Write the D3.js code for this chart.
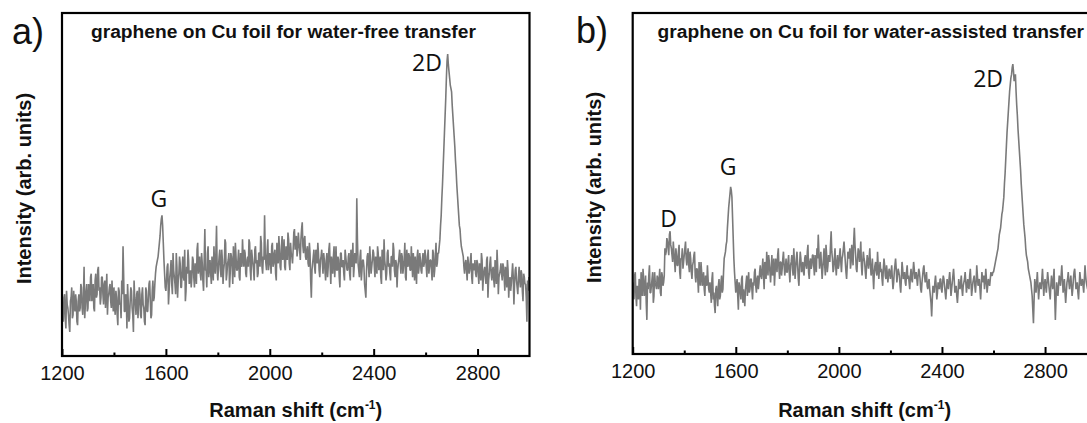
<!DOCTYPE html>
<html>
<head>
<meta charset="utf-8">
<script src="https://cdn.jsdelivr.net/npm/d3@7"></script>
<style>
  html, body { margin: 0; padding: 0; background: #fff; overflow: hidden; }
  svg { display: block; }
</style>
</head>
<body>
<svg id="chart" width="1087" height="423"></svg>
<script>
// ---- data ----
// Digitised spectra: samples every 5 cm^-1 from 1200, plus the in-between
// samples (1202.5, 1207.5, ...).
const shiftStart = 1200;   // cm^-1
const shiftStep = 5;       // cm^-1

const intensityWaterFree = [
  16,10,18,8,15,12,7,17,11,19,13,16,9,18,14,20,12,26,15,21,
  14,19,23,16,21,13,24,18,26,20,17,23,15,22,19,12,18,21,14,17,
  20,12,17,9,19,15,22,32,13,18,8,16,11,20,14,7,17,12,19,15,
  18,11,20,14,9,19,13,21,16,12,22,17,24,27,29,33,38,41,33,24,
  19,26,15,23,28,18,25,21,30,17,24,27,20,29,22,16,26,31,21,25,
  23,28,20,26,31,24,29,22,27,19,37,25,30,23,28,21,26,32,24,38,
  22,29,25,31,21,27,33,24,28,20,30,26,32,23,29,25,31,22,27,34,
  26,30,23,29,34,25,31,27,22,32,28,24,30,35,26,29,41,27,31,25,
  30,24,33,27,31,22,29,35,26,32,28,34,25,30,36,27,33,29,31,37,
  33,29,36,31,34,39,30,35,28,32,26,30,17,27,31,24,29,33,25,28,
  31,24,28,22,30,26,33,21,27,29,23,32,25,28,20,30,26,24,31,27,
  25,30,22,28,33,26,29,46,27,23,31,25,28,21,17,29,26,32,24,28,
  30,23,27,32,25,29,21,28,34,26,24,31,27,22,29,33,25,28,20,27,
  31,24,29,26,33,22,28,30,25,32,23,27,29,21,31,26,28,24,30,27,
  29,23,31,26,28,22,30,25,33,27,30,34,41,50,60,70,81,88,83,79,
  77,70,64,57,50,44,38,34,31,29,24,28,22,27,25,30,21,26,28,23,
  27,21,26,30,19,25,23,28,17,24,29,22,26,20,25,31,18,24,27,22,
  26,19,24,28,17,23,21,27,15,25,22,18,26,20,24,16,23,21,10,19,20
];
const intensityWaterFreeMid = [
  13,17,11,19,14,9,16,20,12,15,18,10,16,13,21,14,17,11,19,13,
  21,16,24,18,14,22,17,25,19,15,23,18,21,14,24,17,20,16,22,13,
  14,19,12,20,15,11,18,23,13,17,21,10,16,19,12,22,15,18,11,20,
  12,18,15,10,20,13,17,22,11,19,16,21,26,28,31,35,40,38,28,20,
  22,27,19,25,21,30,23,18,26,22,29,20,25,23,31,19,24,28,22,20,
  29,23,27,21,33,26,24,30,22,28,25,20,32,26,24,29,22,27,30,25,
  26,31,23,28,25,34,22,27,30,24,29,21,27,33,25,28,23,30,26,29,
  31,24,28,26,33,22,29,25,31,27,23,30,26,33,24,28,30,25,34,27,
  28,32,26,30,24,33,27,31,25,35,29,26,32,28,34,25,30,27,36,31,
  35,31,33,28,37,32,34,29,31,27,33,22,25,29,26,31,27,30,23,29,
  27,30,25,28,23,31,26,29,24,32,27,25,29,23,30,26,28,22,29,25,
  29,24,31,26,23,30,27,34,25,29,22,28,26,19,25,30,23,28,26,31,
  26,29,24,30,27,23,31,25,28,22,30,26,24,29,26,31,23,27,25,29,
  27,30,24,28,23,31,26,29,25,27,30,22,26,29,24,30,25,28,26,31,
  26,29,24,28,25,31,23,29,26,30,32,38,46,55,65,75,86,85,81,78,
  73,67,61,54,47,41,37,32,30,26,27,25,29,24,28,23,27,25,24,28,
  24,27,22,28,23,26,21,29,22,27,24,25,22,28,21,26,23,25,24,27,
  23,26,20,25,22,19,24,23,21,26,20,23,22,25,19,24,21,17,22,23
];

const intensityWaterAssisted = [
  21,16,24,14,19,22,13,20,25,17,23,10,19,26,18,22,15,24,20,23,
  19,25,17,23,21,31,30,33,29,36,31,27,30,24,29,26,32,22,28,25,
  29,33,26,31,24,28,22,27,30,21,25,18,23,27,20,24,17,22,26,19,
  21,15,24,18,12,20,14,22,17,23,19,28,30,33,40,45,49,46,34,24,
  18,22,13,20,16,23,19,14,21,17,24,19,22,16,20,25,18,23,21,26,
  22,28,19,26,30,23,27,21,29,25,20,28,24,31,22,27,25,30,23,28,
  24,29,21,27,25,31,22,28,26,20,30,24,27,23,29,25,32,22,28,26,
  29,23,27,31,35,25,30,22,28,26,32,24,29,27,36,28,25,31,23,29,
  26,31,24,29,33,27,22,30,28,25,32,26,37,29,24,31,27,33,23,30,
  27,22,29,25,31,23,28,19,26,24,30,22,27,25,20,28,23,26,21,25,
  22,26,19,24,28,21,25,23,18,27,22,24,20,26,23,19,25,21,27,22,
  24,20,25,22,18,23,26,21,24,19,22,17,11,20,18,23,16,21,19,22,
  18,23,20,16,22,19,24,17,21,25,18,20,15,22,19,23,17,21,24,18,
  22,19,25,17,21,23,18,26,20,22,16,24,21,19,25,18,22,20,24,23,
  24,26,28,30,33,36,39,42,46,53,61,68,74,79,82,85,80,82,73,66,
  60,54,47,41,36,31,28,25,23,21,17,9,22,18,24,16,21,19,25,17,
  22,18,24,20,16,23,19,25,10,21,17,23,20,26,18,22,15,21,24,19,
  23,17,22,25,19,21,16,24,20,22,18,26,21,19,23,17,22,20,24,18,21
];
const intensityWaterAssistedMid = [
  18,23,17,20,16,21,24,17,22,19,15,21,23,18,20,24,17,21,19,22,
  22,18,24,20,23,29,34,31,35,32,29,33,27,31,26,30,24,28,31,27,
  31,28,29,26,30,24,26,29,23,25,22,27,20,24,22,19,23,20,22,18,
  18,22,16,14,19,17,20,16,21,18,24,29,32,37,43,47,48,40,28,21,
  20,17,21,18,22,15,17,19,23,20,18,22,19,21,24,20,22,19,24,23,
  25,23,27,22,26,29,24,25,23,28,24,26,29,25,27,23,28,26,25,24,
  27,24,26,29,23,27,25,30,22,26,28,25,24,28,26,30,24,27,25,29,
  26,29,24,28,30,27,26,25,31,23,29,26,28,32,30,24,28,26,27,25,
  29,27,28,31,30,24,26,29,31,27,29,33,32,25,28,30,29,26,27,28,
  24,26,27,28,26,25,23,24,27,23,26,25,24,22,25,26,22,24,23,24,
  24,22,21,26,25,23,24,20,22,25,23,21,24,22,21,23,22,24,25,23,
  22,23,24,19,21,25,23,22,20,21,19,15,16,19,21,20,18,20,22,19,
  21,22,18,19,20,22,21,19,23,22,19,17,18,20,21,19,20,22,21,20,
  20,23,21,19,22,20,21,23,21,19,20,22,23,21,22,20,21,22,23,24,
  25,27,29,31,35,37,41,44,50,57,65,71,77,81,84,83,81,77,70,63,
  57,50,44,38,34,29,27,24,22,19,13,16,20,21,20,19,20,22,21,20,
  20,21,22,18,20,21,22,17,16,19,20,22,23,22,20,18,18,22,21,21,
  20,19,24,22,20,18,20,22,21,20,22,23,20,21,20,19,21,22,21,19
];

const xDomain = [1200, 3000];
const majorTicks = [1200, 1600, 2000, 2400, 2800];
const minorTicks = [1400, 1800, 2200, 2600];
const yDomain = [0, 100];

const panelLetters = ["a)", "b)"];
const panelTitles = [
  "graphene on Cu foil for water-free transfer",
  "graphene on Cu foil for water-assisted transfer"
];
const peakLabelsWaterFree = [
  { text: "G", shift: 1573, level: 43.4 },
  { text: "2D", shift: 2605, level: 83 }
];
const peakLabelsWaterAssisted = [
  { text: "D", shift: 1339, level: 37.2 },
  { text: "G", shift: 1570, level: 52.5 },
  { text: "2D", shift: 2579, level: 78.3 }
];
const yTitle = "Intensity (arb. units)";
const xTitle = "Raman shift (cm";
const xTitleSup = "-1";

// interleave main samples and in-between samples into one trace
function buildTrace(main, mid) {
  const pts = [];
  main.forEach((v, k) => {
    pts.push({ shift: shiftStart + k * shiftStep, value: v });
    if (k < mid.length) pts.push({ shift: shiftStart + k * shiftStep + shiftStep / 2, value: mid[k] });
  });
  return pts;
}

// ---- layout ----
const panels = [
  { left: 62, right: 529.5, top: 13, bottom: 356, letterX: 28, letterY: 44, yTitleX: 31,
    data: buildTrace(intensityWaterFree, intensityWaterFreeMid), peaks: peakLabelsWaterFree,
    title: panelTitles[0], letter: panelLetters[0], titleX: 91 },
  { left: 632.7, right: 1096.6, top: 13, bottom: 354, letterX: 592, letterY: 43, yTitleX: 601,
    data: buildTrace(intensityWaterAssisted, intensityWaterAssistedMid), peaks: peakLabelsWaterAssisted,
    title: panelTitles[1], letter: panelLetters[1], titleX: 657.6 }
];

const svg = d3.select("#chart");
const lineColor = "#7a7a7a";

panels.forEach((p, i) => {
  const x = d3.scaleLinear().domain(xDomain).range([p.left, p.right]);
  const y = d3.scaleLinear().domain(yDomain).range([p.bottom, p.top]);
  const g = svg.append("g");

  const clipId = "clip" + i;
  svg.append("clipPath").attr("id", clipId)
    .append("rect")
    .attr("x", p.left).attr("y", p.top)
    .attr("width", p.right - p.left).attr("height", p.bottom - p.top);

  const line = d3.line()
    .x(d => x(d.shift))
    .y(d => y(d.value));

  g.append("path")
    .datum(p.data)
    .attr("clip-path", `url(#${clipId})`)
    .attr("fill", "none")
    .attr("stroke", lineColor)
    .attr("stroke-width", 1.6)
    .attr("stroke-linejoin", "bevel")
    .attr("d", line);

  // major ticks + labels
  const axisMajor = d3.axisBottom(x)
    .tickValues(majorTicks)
    .tickFormat(d3.format("d"))
    .tickSizeInner(-7)
    .tickSizeOuter(0)
    .tickPadding(10);
  const ax = g.append("g")
    .attr("transform", `translate(0,${p.bottom})`)
    .call(axisMajor);
  ax.select(".domain").remove();
  ax.selectAll(".tick line").attr("stroke", "#000").attr("stroke-width", 2);
  ax.selectAll(".tick text")
    .attr("fill", "#111")
    .style("font-family", "'Liberation Sans', Arial, sans-serif")
    .style("font-size", "20px");

  // minor ticks
  const axisMinor = d3.axisBottom(x)
    .tickValues(minorTicks)
    .tickFormat("")
    .tickSizeInner(-3.5)
    .tickSizeOuter(0);
  const axm = g.append("g")
    .attr("transform", `translate(0,${p.bottom})`)
    .call(axisMinor);
  axm.select(".domain").remove();
  axm.selectAll(".tick line").attr("stroke", "#000").attr("stroke-width", 2);

  // frame
  g.append("rect")
    .attr("x", p.left).attr("y", p.top)
    .attr("width", p.right - p.left).attr("height", p.bottom - p.top)
    .attr("fill", "none")
    .attr("stroke", "#000")
    .attr("stroke-width", 2.2);

  // panel title
  g.append("text")
    .attr("x", p.titleX).attr("y", 37.5)
    .attr("fill", "#111")
    .style("font-family", "'Liberation Sans', Arial, sans-serif")
    .style("font-weight", "bold")
    .style("font-size", "19.2px")
    .text(p.title);

  // panel letter
  g.append("text")
    .attr("x", p.letterX).attr("y", p.letterY)
    .attr("text-anchor", "middle")
    .attr("fill", "#111")
    .style("font-family", "'Liberation Sans', Arial, sans-serif")
    .style("font-size", "36px")
    .text(p.letter);

  // peak labels
  g.selectAll("text.peak")
    .data(p.peaks)
    .join("text")
    .attr("class", "peak")
    .attr("x", d => x(d.shift))
    .attr("y", d => y(d.level))
    .attr("text-anchor", "middle")
    .attr("fill", "#111")
    .style("font-family", "'Open Sans', sans-serif")
    .style("font-size", "23px")
    .text(d => d.text);

  // y title
  const cy = (p.top + p.bottom) / 2 + 4;
  g.append("text")
    .attr("transform", `translate(${p.yTitleX},${cy}) rotate(-90)`)
    .attr("text-anchor", "middle")
    .attr("fill", "#111")
    .style("font-family", "'Liberation Sans', Arial, sans-serif")
    .style("font-weight", "bold")
    .style("font-size", "20px")
    .text(yTitle);

  // x title
  const xt = g.append("text")
    .attr("x", (p.left + x(3000)) / 2)
    .attr("y", 417)
    .attr("text-anchor", "middle")
    .attr("fill", "#111")
    .style("font-family", "'Liberation Sans', Arial, sans-serif")
    .style("font-weight", "bold")
    .style("font-size", "20px");
  xt.append("tspan").text(xTitle);
  xt.append("tspan").attr("dy", -8).style("font-size", "12px").text(xTitleSup);
  xt.append("tspan").attr("dy", 8).text(")");
});
</script>
</body>
</html>
